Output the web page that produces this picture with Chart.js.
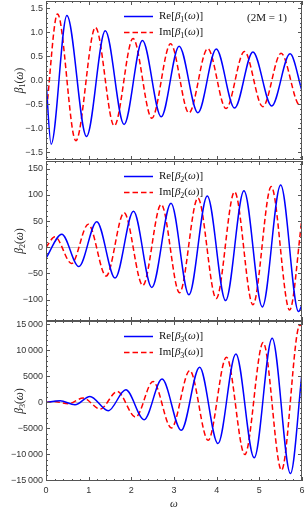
<!DOCTYPE html>
<html>
<head>
<meta charset="utf-8">
<script src="https://cdn.jsdelivr.net/npm/chart.js@4.4.0/dist/chart.umd.min.js"></script>
<style>
  html, body { margin: 0; padding: 0; background: #fff; }
  #wrap { position: relative; width: 306px; height: 512px; overflow: hidden; }
  canvas { position: absolute; left: 0; display: block; }
</style>
</head>
<body>
<div id="wrap">
  <canvas id="c1" width="306" height="161" style="top:0"></canvas>
  <canvas id="c2" width="306" height="162" style="top:160px"></canvas>
  <canvas id="c3" width="306" height="192" style="top:320px"></canvas>
</div>
<script>
// values: omega of each turning point, and the value there
const re1W = [0, 0.12, 0.49, 0.95, 1.39, 1.83, 2.26, 2.70, 3.12, 3.56, 3.99, 4.42, 4.85, 5.29, 5.72, 6.0];
const re1V = [0, -1.33, 1.35, -1.17, 1.03, -0.92, 0.83, -0.76, 0.71, -0.675, 0.65, -0.58, 0.59, -0.535, 0.55, -0.22];
const im1W = [0, 0.27, 0.70, 1.16, 1.60, 2.04, 2.48, 2.92, 3.35, 3.79, 4.22, 4.65, 5.08, 5.51, 5.95, 6.0];
const im1V = [-0.75, 1.38, -1.26, 1.10, -0.95, 0.87, -0.79, 0.76, -0.68, 0.66, -0.59, 0.60, -0.55, 0.56, -0.52, -0.50];

const re2W = [0, 0.37, 0.77, 1.19, 1.62, 2.05, 2.48, 2.93, 3.35, 3.78, 4.21, 4.64, 5.07, 5.50, 5.92, 6.0];
const re2V = [-21, 25, -37, 49, -59, 69, -77, 84, -91, 98, -102, 108, -114, 119, -123, -110];
const im2W = [0, 0.21, 0.60, 0.99, 1.41, 1.83, 2.27, 2.70, 3.13, 3.56, 3.99, 4.42, 4.85, 5.28, 5.71, 6.0];
const im2V = [0, 20, -31, 44, -55, 66, -73, 82, -87, 94, -98, 106, -110, 116, -120, 55];

const re3W = [0, 0.33, 0.68, 1.03, 1.46, 1.87, 2.30, 2.72, 3.17, 3.60, 4.03, 4.45, 4.88, 5.30, 5.73, 6.0];
const re3V = [0, 330, -440, 1150, -1590, 2430, -3310, 4480, -5360, 6780, -7910, 9330, -10650, 12340, -13660, 5630];
const im3W = [0, 0.18, 0.52, 0.87, 1.27, 1.67, 2.10, 2.51, 2.94, 3.37, 3.80, 4.23, 4.66, 5.09, 5.52, 5.95, 6.0];
const im3V = [0, 180, -250, 840, -1270, 2110, -2810, 4020, -4910, 6130, -7280, 8700, -10020, 11500, -13030, 14900, 14700];

const xTicks = [0, 1, 2, 3, 4, 5, 6];
const yTicks1 = [-1.5, -1.0, -0.5, 0, 0.5, 1.0, 1.5];
const yTicks2 = [-100, -50, 0, 50, 100, 150];
const yTicks3 = [-15000, -10000, -5000, 0, 5000, 10000, 15000];

const BLUE = '#0000ff';
const RED = '#ff0000';
const SERIF = '"Liberation Serif", "DejaVu Serif", serif';
const SANS = '"Liberation Sans", Arial, sans-serif';

const zip = (w, v) => w.map((x, i) => ({ x: x, y: v[i] }));
const minus = s => s.replace('-', '\u2212');

function fmt1(v) { return minus(v.toFixed(1)); }
function fmt2(v) { return minus(String(v)); }
function fmt3(v) {
  const a = Math.abs(v);
  let s = a >= 10000 ? String(a).replace(/(\d+)(\d{3})$/, '$1\u2009$2') : String(a);
  return (v < 0 ? '\u2212' : '') + s;
}

// draw a run of pieces: [text, font, dy]
function richWidth(ctx, parts) {
  let w = 0;
  parts.forEach(p => { ctx.font = p[1]; w += ctx.measureText(p[0]).width; });
  return w;
}
function drawRich(ctx, parts, x, y) {
  ctx.textBaseline = 'middle';
  ctx.textAlign = 'left';
  parts.forEach(p => {
    ctx.font = p[1];
    ctx.fillText(p[0], x, y + (p[2] || 0));
    x += ctx.measureText(p[0]).width;
  });
}
function betaParts(n, size, pre, post) {
  const f = size + 'px ' + SERIF, fi = 'italic ' + f, fs = Math.round(size * 0.7) + 'px ' + SERIF;
  const out = [];
  if (pre) out.push([pre, f]);
  out.push(['β', fi], [n, fs, size * 0.28], ['(', f], ['ω', fi], [')' + (post || ''), f]);
  return out;
}

const framePlugin = {
  id: 'frame',
  beforeDatasetsDraw(chart) {
    const { ctx, chartArea: a, scales: { y } } = chart;
    const y0 = Math.round(y.getPixelForValue(0)) + 0.5;
    ctx.save();
    ctx.strokeStyle = '#c4c4c4';
    ctx.lineWidth = 1;
    ctx.beginPath(); ctx.moveTo(a.left, y0); ctx.lineTo(a.right, y0); ctx.stroke();
    ctx.restore();
  },
  afterDraw(chart, args, o) {
    const { ctx, chartArea: a, scales: { x, y } } = chart;
    ctx.save();
    ctx.strokeStyle = '#555';
    ctx.lineWidth = 1;
    ctx.strokeRect(a.left + 0.5, a.top + 0.5, a.right - a.left - 1, a.bottom - a.top - 1);
    ctx.beginPath();
    // x ticks, top and bottom
    for (let k = 0; k <= 30; k++) {
      const v = k * 0.2;
      const px = Math.round(x.getPixelForValue(v)) + 0.5;
      const L = (k % 5 === 0) ? 4 : 2;
      ctx.moveTo(px, a.top); ctx.lineTo(px, a.top + L);
      ctx.moveTo(px, a.bottom); ctx.lineTo(px, a.bottom - L);
    }
    // y ticks, left and right
    const n = Math.round((y.max - y.min) / o.minor);
    const start = Math.ceil(y.min / o.minor);
    for (let k = start; k <= start + n + 1; k++) {
      const v = k * o.minor;
      if (v < y.min || v > y.max) continue;
      const py = Math.round(y.getPixelForValue(v)) + 0.5;
      const L = (k % o.per === 0) ? 4 : 2;
      ctx.moveTo(a.left, py); ctx.lineTo(a.left + L, py);
      ctx.moveTo(a.right, py); ctx.lineTo(a.right - L, py);
    }
    ctx.stroke();

    // y title
    ctx.fillStyle = '#222';
    const tp = betaParts(o.n, 11.5);
    const tw = richWidth(ctx, tp);
    ctx.save();
    ctx.translate(20, (a.top + a.bottom) / 2);
    ctx.rotate(-Math.PI / 2);
    drawRich(ctx, tp, -tw / 2, 0);
    ctx.restore();

    // legend
    const rows = [['Re[', BLUE, []], ['Im[', RED, [5.5, 3]]];
    rows.forEach((r, i) => {
      const ly = a.top + 15.5 + i * 16;
      ctx.strokeStyle = r[1];
      ctx.lineWidth = 1.5;
      ctx.setLineDash(r[2]);
      ctx.beginPath(); ctx.moveTo(124, ly); ctx.lineTo(153, ly); ctx.stroke();
      ctx.setLineDash([]);
      ctx.fillStyle = '#111';
      drawRich(ctx, betaParts(o.n, 11, r[0], ']'), 159, ly);
    });

    if (o.note) {
      ctx.fillStyle = '#111';
      ctx.font = '11px ' + SERIF;
      ctx.textAlign = 'center';
      ctx.textBaseline = 'middle';
      ctx.fillText(o.note, 267, a.top + 17);
    }
    if (o.xTitle) {
      ctx.fillStyle = '#222';
      ctx.font = 'italic 11px ' + SERIF;
      ctx.textAlign = 'center';
      ctx.textBaseline = 'middle';
      ctx.fillText('ω', (a.left + a.right) / 2, 504 - 320);
    }
    ctx.restore();
  }
};

function makePanel(id, n, re, im, yMin, yMax, yTicks, fmt, minor, per, last) {
  new Chart(document.getElementById(id), {
    type: 'line',
    data: {
      datasets: [
        { label: 'Re', data: re, borderColor: BLUE, borderWidth: 1.5, pointRadius: 0,
          cubicInterpolationMode: 'monotone', fill: false },
        { label: 'Im', data: im, borderColor: RED, borderWidth: 1.5, pointRadius: 0,
          borderDash: [5.5, 3], cubicInterpolationMode: 'monotone', fill: false }
      ]
    },
    options: {
      responsive: false,
      animation: false,
      events: [],
      devicePixelRatio: 1,
      layout: { padding: { top: 1, bottom: last ? 0 : 1, right: 4, left: 0 } },
      plugins: {
        legend: { display: false },
        tooltip: { enabled: false },
        frame: { n: n, minor: minor, per: per, note: n === '1' ? '(2M = 1)' : '', xTitle: last }
      },
      scales: {
        x: {
          type: 'linear', min: 0, max: 6,
          display: last,
          afterBuildTicks: s => { s.ticks = xTicks.map(v => ({ value: v })); },
          afterFit: s => {
            s.height = last ? 31 : 0;
            s.paddingLeft = 0; s.paddingRight = 0;
          },
          grid: { display: false, drawTicks: false },
          border: { display: false },
          ticks: { padding: 4, color: '#333', font: { family: SANS, size: 9 } }
        },
        y: {
          min: yMin, max: yMax,
          afterBuildTicks: s => { s.ticks = yTicks.map(v => ({ value: v })); },
          afterFit: s => {
            s.width = 46;
            s.paddingTop = 0; s.paddingBottom = 0;
          },
          grid: { display: false, drawTicks: false },
          border: { display: false },
          ticks: { padding: 3, color: '#333', font: { family: SANS, size: 9 },
                   callback: v => fmt(v) }
        }
      }
    },
    plugins: [framePlugin]
  });
}

makePanel('c1', '1', zip(re1W, re1V), zip(im1W, im1V), -1.66, 1.65, yTicks1, fmt1, 0.1, 5, false);
makePanel('c2', '2', zip(re2W, re2V), zip(im2W, im2V), -141, 165, yTicks2, fmt2, 10, 5, false);
makePanel('c3', '3', zip(re3W, re3V), zip(im3W, im3V), -15100, 15650, yTicks3, fmt3, 1000, 5, true);
</script>
</body>
</html>
